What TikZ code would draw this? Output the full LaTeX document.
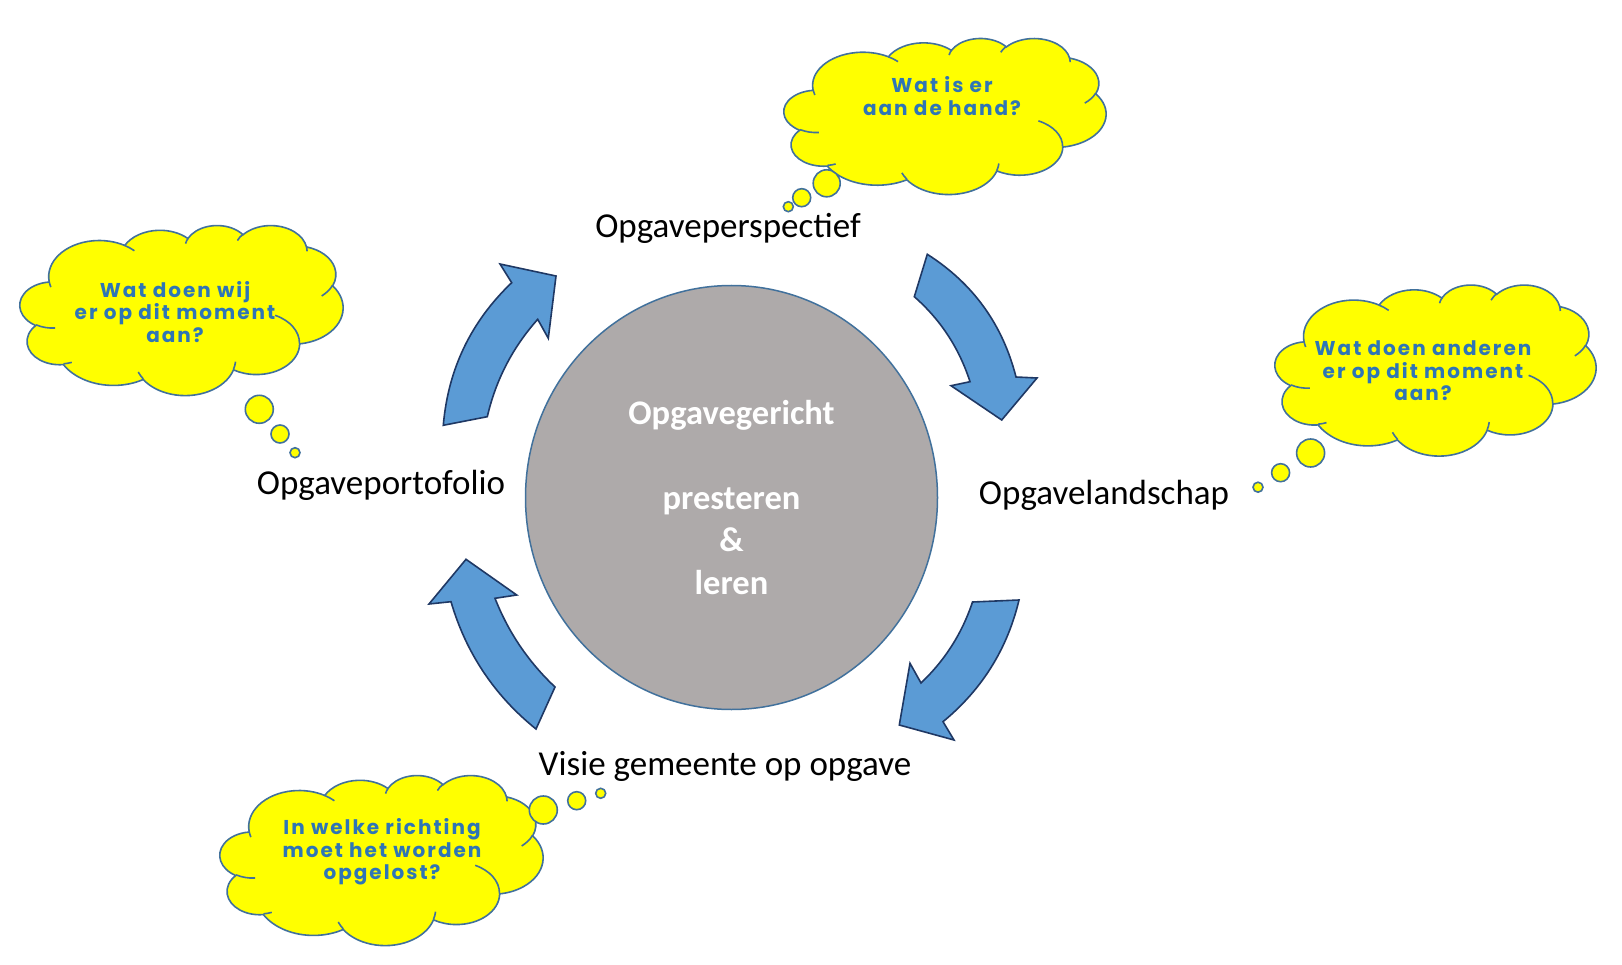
\documentclass[tikz,border=0pt]{standalone}
\usepackage{fontspec}
\setmainfont{Carlito}
\newfontfamily\handfont[LetterSpace=10]{Poppins}
\usetikzlibrary{shapes.geometric}
\definecolor{cloudfill}{RGB}{255,255,0}
\definecolor{cloudline}{RGB}{65,113,156}
\definecolor{handblue}{RGB}{46,117,182}
\definecolor{arrowfill}{RGB}{91,155,213}
\definecolor{arrowline}{RGB}{31,56,100}
\definecolor{corefill}{RGB}{174,170,170}
\definecolor{coreline}{RGB}{65,113,156}
% visual (OOXML) angles -> parametric angles
\newcommand\cang[5]{%
  \pgfmathsetmacro\tmpS{atan2((#2)*sin(#4),(#3)*cos(#4))}%
  \pgfmathsetmacro\tmpE{atan2((#2)*sin((#4)+(#5)),(#3)*cos((#4)+(#5)))}%
  \pgfmathsetmacro\tmpD{\tmpE-\tmpS}%
  \pgfmathsetmacro\tmpD{\tmpD<0 ? \tmpD+360 : \tmpD}%
  \expandafter\xdef\csname cS#1\endcsname{\tmpS}%
  \expandafter\xdef\csname cD#1\endcsname{\tmpD}%
}
\newcommand\pptcloud[5]{%
\begin{scope}[shift={(#2,#3)},xscale=#4/432,yscale=#5/432]
\path[cloudbody] (39,143.7)
 arc[x radius=67.53,y radius=91.90,start angle=\cSa,delta angle=\cDa]
 arc[x radius=53.33,y radius=72.67,start angle=\cSb,delta angle=\cDb]
 arc[x radius=43.65,y radius=59.45,start angle=\cSc,delta angle=\cDc]
 arc[x radius=48.57,y radius=65.95,start angle=\cSd,delta angle=\cDd]
 arc[x radius=53.33,y radius=72.73,start angle=\cSe,delta angle=\cDe]
 arc[x radius=67.75,y radius=92.20,start angle=\cSf,delta angle=\cDf]
 arc[x radius=57.85,y radius=78.67,start angle=\cSg,delta angle=\cDg]
 arc[x radius=67.52,y radius=92.15,start angle=\cSh,delta angle=\cDh]
 arc[x radius=77.20,y radius=105.43,start angle=\cSi,delta angle=\cDi]
 arc[x radius=43.60,y radius=59.18,start angle=\cSj,delta angle=\cDj]
 arc[x radius=43.45,y radius=59.45,start angle=\cSk,delta angle=\cDk]
 -- cycle;
\path[cloudinner]
 (46.93,261.77) arc[x radius=43.45,y radius=59.45,start angle=\cSA,delta angle=\cDA]
 (69.28,348.99) arc[x radius=43.60,y radius=59.18,start angle=\cSB,delta angle=\cDB]
 (164.78,390.90) arc[x radius=67.52,y radius=92.15,start angle=\cSC,delta angle=\cDC]
 (288.27,347.51) arc[x radius=67.52,y radius=92.15,start angle=\cSD,delta angle=\cDD]
 (341.29,229.54) arc[x radius=57.85,y radius=78.67,start angle=\cSE,delta angle=\cDE]
 (417.98,153.54) arc[x radius=53.33,y radius=72.73,start angle=\cSF,delta angle=\cDF]
 (383.24,54.26) arc[x radius=48.57,y radius=65.95,start angle=\cSG,delta angle=\cDG]
 (290.78,39.52) arc[x radius=48.57,y radius=65.95,start angle=\cSH,delta angle=\cDH]
 (221.41,47.20) arc[x radius=43.65,y radius=59.45,start angle=\cSI,delta angle=\cDI]
 (140.00,51.92) arc[x radius=67.53,y radius=91.90,start angle=\cSJ,delta angle=\cDJ]
 (41.27,157.89) arc[x radius=67.53,y radius=91.90,start angle=\cSK,delta angle=\cDK];
\coordinate (#1) at (216,216);
\end{scope}}
\tikzset{
  cloudbody/.style={fill=cloudfill,draw=cloudline,line width=1.6pt},
  cloudinner/.style={draw=cloudline,line width=1.6pt},
  bubble/.style={circle,fill=cloudfill,draw=cloudline,line width=1.6pt,inner sep=0pt},
  blockarrow/.style={fill=arrowfill,draw=arrowline,line width=1.6pt,line join=miter},
  stagelabel/.style={font=\fontsize{35}{41}\selectfont,text=black,inner sep=0pt},
  thought/.style={font=\handfont\bfseries\fontsize{20}{22.5}\selectfont,text=handblue,align=center,inner sep=0pt},
  core/.style={ellipse,fill=corefill,draw=coreline,line width=1.5pt,minimum width=412pt,minimum height=424pt,inner sep=0pt},
  coretext/.style={font=\bfseries\fontsize{34.5}{42.3}\selectfont,text=white,align=center,inner sep=0pt}
}
\begin{document}
\begin{tikzpicture}[x=1pt,y=-1pt]
\useasboundingbox[fill=white] (0,0) rectangle (1622,965);
\cang{a}{67.53}{91.90}{-190.4875}{123.7805}
\cang{b}{53.33}{72.67}{-144.1024}{89.9452}
\cang{c}{43.65}{59.45}{-145.8079}{99.7230}
\cang{d}{48.57}{65.95}{-130.9861}{117.2417}
\cang{e}{53.33}{72.73}{-78.7089}{109.0269}
\cang{f}{67.75}{92.20}{-46.2673}{130.2690}
\cang{g}{57.85}{78.67}{0.6250}{114.0333}
\cang{h}{67.52}{92.15}{22.4516}{115.1726}
\cang{i}{77.20}{105.43}{66.2426}{75.7110}
\cang{j}{43.60}{59.18}{-274.9421}{146.7356}
\cang{k}{43.45}{59.45}{-246.8285}{152.5189}
\cang{A}{43.45}{59.45}{86.742}{26.4295}
\cang{B}{43.60}{59.18}{73.6105}{11.4475}
\cang{C}{67.52}{92.15}{137.6242}{14.0811}
\cang{D}{67.52}{92.15}{6.4533}{15.9984}
\cang{E}{57.85}{78.67}{-70.2924}{70.9174}
\cang{F}{53.33}{72.73}{30.3180}{27.7515}
\cang{G}{48.57}{65.95}{-13.7443}{14.8589}
\cang{H}{48.57}{65.95}{-149.1815}{18.1954}
\cang{I}{43.65}{59.45}{-163.4943}{17.6864}
\cang{J}{67.53}{91.90}{-66.7070}{12.3194}
\cang{K}{67.53}{91.90}{157.6544}{11.8582}

% clouds
\pptcloud{cloudtop}{784}{38}{322}{156}
\pptcloud{cloudleft}{20}{225}{323}{170}
\pptcloud{cloudright}{1275}{284.5}{321}{171}
\pptcloud{cloudbottom}{220}{775}{323}{170}

% thought bubbles
\node[bubble,minimum size=27pt] (t1a) at (826.7,183.3) {};
\node[bubble,minimum size=18pt] (t1b) at (801.7,197.7) {};
\node[bubble,minimum size=10pt] (t1c) at (788.3,206.7) {};
\node[bubble,minimum size=28pt] (t2a) at (259.3,409.3) {};
\node[bubble,minimum size=18pt] (t2b) at (280,434) {};
\node[bubble,minimum size=10pt] (t2c) at (295,452.7) {};
\node[bubble,minimum size=28pt] (t3a) at (1310.6,453) {};
\node[bubble,minimum size=18pt] (t3b) at (1280.6,472.7) {};
\node[bubble,minimum size=10pt] (t3c) at (1258,487.2) {};
\node[bubble,minimum size=28pt] (t4a) at (543.3,810) {};
\node[bubble,minimum size=18pt] (t4b) at (576.7,800.7) {};
\node[bubble,minimum size=10pt] (t4c) at (600.7,793.3) {};

% cloud texts
\node[thought] (q1) at (942,96) {Wat is er\\aan de hand?};
\node[thought] (q2) at (175,312) {Wat doen wij\\er op dit moment\\aan?};
\node[thought] (q3) at (1423,371) {Wat doen anderen\\er op dit moment\\aan?};
\node[thought] (q4) at (382,852) {In welke richting\\moet het worden\\opgelost?};

% curved block arrows
\path[blockarrow] (443.3,425.3) -- (487.3,416.7)
  .. controls (495.8,379.9) and (512.6,347.5) .. (537.7,319.3)
  -- (548.3,338.3) -- (556,276) -- (500,264) -- (511.7,282.7)
  .. controls (470.9,321.6) and (448.1,369.2) .. (443.3,425.3) -- cycle;
\path[blockarrow] (927.3,254.3) -- (914.3,296.7)
  .. controls (940.7,319.9) and (959.2,348.3) .. (970,381.7)
  -- (951,385.7) -- (1001.7,420) -- (1037,378) -- (1016,377)
  .. controls (1002.6,324.4) and (973.1,283.5) .. (927.3,254.3) -- cycle;
\path[blockarrow] (1019,600) -- (972.5,602)
  .. controls (962.1,633.3) and (944.9,660.3) .. (921,683)
  -- (910,663.3) -- (899.3,725) -- (954,740) -- (943,721.7)
  .. controls (981.9,689.6) and (1007.3,649.1) .. (1019,600) -- cycle;
\path[blockarrow] (536,729) -- (555,687)
  .. controls (528.4,661.9) and (508.4,632.4) .. (495,598.3)
  -- (516.7,595) -- (466,559.3) -- (429,604) -- (451,601.7)
  .. controls (466,653) and (494.4,695.5) .. (536,729) -- cycle;

% central circle
\node[core] (core) at (731.5,497.5) {};
\node[coretext] (coretxt) at (731.5,497.5) {Opgavegericht\\\mbox{}\\presteren\\\&\\leren};

% stage labels
\node[stagelabel] (persp) at (728,228.5) {Opgaveperspectief};
\node[stagelabel] (portf) at (381,485) {Opgaveportofolio};
\node[stagelabel] (lands) at (1104,495) {Opgavelandschap};
\node[stagelabel] (visie) at (725,766) {Visie gemeente op opgave};
\end{tikzpicture}
\end{document}
